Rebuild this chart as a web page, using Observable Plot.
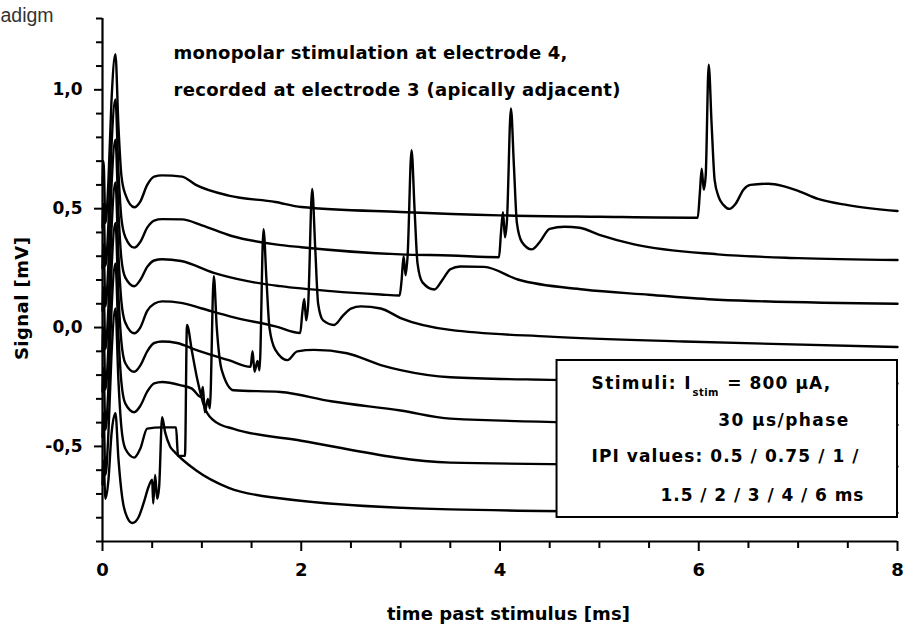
<!DOCTYPE html>
<html>
<head>
<meta charset="utf-8">
<script src="https://cdn.jsdelivr.net/npm/d3@7"></script>
<script src="https://cdn.jsdelivr.net/npm/@observablehq/plot@0.6"></script>
<style>
  html, body { margin: 0; padding: 0; background: #fff; }
</style>
</head>
<body>
<div id="chart"></div>
<script>
// ---- Data: eight recorded traces, [time (ms), signal (mV)] ----
const traceIPI6 = [[0,0.60],[0.01,0.70],[0.03,0.44],[0.06,0.62],[0.09,0.95],[0.13,1.15],[0.16,0.85],[0.19,0.64],[0.23,0.56],[0.32,0.506],[0.38,0.53],[0.45,0.60],[0.52,0.635],[0.6,0.64],[0.8,0.635],[0.94,0.60],[1.27,0.555],[1.74,0.528],[2.0,0.507],[3.0,0.486],[4.0,0.472],[5.0,0.466],[5.99,0.462],[6.01,0.56],[6.03,0.668],[6.05,0.58],[6.07,0.64],[6.1,1.106],[6.13,0.85],[6.16,0.62],[6.2,0.55],[6.25,0.515],[6.31,0.499],[6.37,0.52],[6.45,0.58],[6.52,0.60],[6.7,0.605],[6.85,0.595],[7.0,0.575],[7.2,0.541],[7.5,0.515],[8.0,0.49]];
const traceIPI4 = [[0,0.42],[0.01,0.52],[0.03,0.26],[0.06,0.44],[0.09,0.76],[0.13,0.96],[0.16,0.66],[0.19,0.46],[0.23,0.38],[0.32,0.336],[0.38,0.36],[0.45,0.42],[0.52,0.45],[0.6,0.456],[0.8,0.455],[1.0,0.43],[1.3,0.385],[1.74,0.35],[2.0,0.338],[3.0,0.308],[3.5,0.303],[3.99,0.296],[4.01,0.40],[4.03,0.485],[4.05,0.38],[4.07,0.45],[4.11,0.922],[4.14,0.68],[4.17,0.44],[4.22,0.36],[4.32,0.329],[4.4,0.36],[4.5,0.415],[4.65,0.424],[4.8,0.42],[5.0,0.39],[5.35,0.35],[6.19,0.308],[7.0,0.292],[8.0,0.284]];
const traceIPI3 = [[0,0.25],[0.01,0.35],[0.03,0.09],[0.06,0.27],[0.09,0.59],[0.13,0.79],[0.16,0.49],[0.19,0.29],[0.23,0.21],[0.32,0.174],[0.38,0.20],[0.45,0.255],[0.52,0.282],[0.6,0.287],[0.79,0.28],[1.12,0.23],[1.46,0.195],[1.79,0.174],[2.3,0.153],[2.8,0.139],[2.99,0.135],[3.01,0.20],[3.03,0.30],[3.05,0.22],[3.07,0.30],[3.11,0.746],[3.14,0.50],[3.17,0.27],[3.22,0.19],[3.34,0.16],[3.42,0.20],[3.5,0.245],[3.6,0.257],[3.84,0.255],[4.18,0.202],[4.84,0.16],[5.5,0.138],[6.19,0.117],[8.0,0.10]];
const traceIPI2 = [[0,0.07],[0.01,0.17],[0.03,-0.09],[0.06,0.09],[0.09,0.41],[0.13,0.61],[0.16,0.31],[0.19,0.11],[0.23,0.02],[0.32,-0.024],[0.38,0.0],[0.45,0.07],[0.52,0.10],[0.6,0.11],[0.79,0.104],[1.0,0.08],[1.3,0.045],[1.74,0.005],[1.99,-0.023],[2.01,0.06],[2.03,0.12],[2.05,0.03],[2.07,0.10],[2.11,0.583],[2.14,0.34],[2.17,0.10],[2.22,0.03],[2.33,0.011],[2.42,0.05],[2.5,0.08],[2.6,0.089],[2.8,0.08],[3.0,0.04],[3.5,-0.01],[4.5,-0.038],[5.85,-0.059],[8.0,-0.082]];
const traceIPI15 = [[0,-0.10],[0.01,0.0],[0.03,-0.26],[0.06,-0.08],[0.09,0.24],[0.13,0.44],[0.16,0.14],[0.19,-0.06],[0.23,-0.15],[0.32,-0.186],[0.38,-0.16],[0.45,-0.10],[0.52,-0.065],[0.6,-0.059],[0.75,-0.065],[0.94,-0.094],[1.27,-0.137],[1.49,-0.165],[1.51,-0.10],[1.53,-0.186],[1.56,-0.14],[1.58,-0.18],[1.62,0.414],[1.65,0.20],[1.68,0.0],[1.74,-0.094],[1.86,-0.137],[1.96,-0.10],[2.13,-0.094],[2.46,-0.108],[2.8,-0.158],[3.0,-0.179],[3.5,-0.209],[4.5,-0.22],[5.5,-0.226],[8.0,-0.235]];
const traceIPI1 = [[0,-0.27],[0.01,-0.17],[0.03,-0.43],[0.06,-0.25],[0.09,0.07],[0.13,0.27],[0.16,-0.03],[0.19,-0.23],[0.23,-0.32],[0.32,-0.356],[0.38,-0.33],[0.45,-0.27],[0.52,-0.235],[0.6,-0.229],[0.79,-0.243],[0.9,-0.257],[0.99,-0.292],[1.01,-0.25],[1.03,-0.356],[1.06,-0.30],[1.08,-0.34],[1.12,0.216],[1.15,0.0],[1.2,-0.179],[1.32,-0.264],[1.79,-0.271],[2.3,-0.31],[3.0,-0.349],[3.5,-0.383],[5.5,-0.404],[8.0,-0.41]];
const traceIPI075 = [[0,-0.46],[0.01,-0.36],[0.03,-0.62],[0.06,-0.44],[0.09,-0.12],[0.13,0.08],[0.16,-0.22],[0.19,-0.42],[0.23,-0.51],[0.32,-0.547],[0.38,-0.51],[0.45,-0.425],[0.6,-0.42],[0.74,-0.42],[0.76,-0.54],[0.83,-0.54],[0.85,0.011],[0.9,-0.10],[0.95,-0.21],[1.04,-0.349],[1.15,-0.40],[1.32,-0.426],[2.0,-0.476],[3.5,-0.568],[5.5,-0.578],[8.0,-0.585]];
const traceIPI05 = [[0,-0.66],[0.01,-0.56],[0.03,-0.72],[0.06,-0.64],[0.09,-0.45],[0.13,-0.36],[0.16,-0.55],[0.2,-0.72],[0.25,-0.80],[0.3,-0.822],[0.36,-0.80],[0.42,-0.73],[0.46,-0.674],[0.5,-0.64],[0.51,-0.74],[0.53,-0.62],[0.55,-0.72],[0.57,-0.67],[0.6,-0.377],[0.63,-0.44],[0.68,-0.50],[0.73,-0.525],[0.94,-0.60],[1.27,-0.674],[1.74,-0.716],[3.5,-0.765],[5.5,-0.775],[8.0,-0.78]];

const ipiLabels = ["6 ms", "4 ms", "3 ms", "2 ms", "1.5 ms", "1 ms", "0.75 ms", "0.5 ms"];
const traceList = [traceIPI6, traceIPI4, traceIPI3, traceIPI2, traceIPI15, traceIPI1, traceIPI075, traceIPI05];

// ---- Axis ticks and labels ----
const xMajorTicks = [0, 2, 4, 6, 8];
const xMinorTicks = [0.5, 1, 1.5, 2.5, 3, 3.5, 4.5, 5, 5.5, 6.5, 7, 7.5];
const yMajorTicks = [-0.5, 0, 0.5, 1.0];
const yTickLabels = ["-0,5", "0,0", "0,5", "1,0"];
const yMinorTicks = [-0.9, -0.8, -0.7, -0.6, -0.4, -0.3, -0.2, -0.1, 0.1, 0.2, 0.3, 0.4, 0.6, 0.7, 0.8, 0.9, 1.1, 1.2, 1.3];

// ---- Texts ----
const headerLines = ["monopolar stimulation at electrode 4,", "recorded at electrode 3 (apically adjacent)"];
const cutText = "adigm";
const xLabel = "time past stimulus [ms]";
const yLabel = "Signal [mV]";
const legendLines = ["Stimuli: I", "stim", "= 800 µA,", "30 µs/phase", "IPI values: 0.5 / 0.75 / 1 /", "1.5 / 2 / 3 / 4 / 6 ms"];

// ---- Build table ----
const rows = traceList.flatMap((tr, i) => tr.map(([t, v]) => ({ipi: ipiLabels[i], t, v})));

// annotation placement (data units)
const headerAnn = [
  {text: headerLines[0], x: 0.714, y: 1.155},
  {text: headerLines[1], x: 0.714, y: 1.0}
];
const legendBox = [{x1: 4.574, x2: 8.0, y1: -0.1386, y2: -0.799}];
const legendAnn = [
  {text: legendLines[0], x: 4.921, y: -0.235},
  {text: legendLines[2], x: 6.286, y: -0.235},
  {text: legendLines[3], x: 6.196, y: -0.3914},
  {text: legendLines[4], x: 4.921, y: -0.5437},
  {text: legendLines[5], x: 5.615, y: -0.7048}
];
const legendSub = [{text: legendLines[1], x: 5.937, y: -0.2745}];

const textWidths = new Map([
  [headerLines[0], 394], [headerLines[1], 447],
  [xLabel, 243], [yLabel, 123], [cutText, 53],
  [legendLines[0], 99], [legendLines[1], 26], [legendLines[2], 103],
  [legendLines[3], 130], [legendLines[4], 267], [legendLines[5], 203]
]);

const font = "DejaVu Sans";
const yFmt = d => yTickLabels[yMajorTicks.indexOf(d)];

const svg = Plot.plot({
  width: 905,
  height: 626,
  marginLeft: 102,
  marginRight: 8,
  marginTop: 18,
  marginBottom: 85,
  x: {domain: [0, 8]},
  y: {domain: [-0.9, 1.3]},
  style: {background: "white", color: "black", fontFamily: font},
  marks: [
    Plot.line(rows, {x: "t", y: "v", z: "ipi", stroke: "black", strokeWidth: 2.4, curve: "monotone-x", strokeLinejoin: "round"}),
    Plot.rect(legendBox, {x1: "x1", x2: "x2", y1: "y1", y2: "y2", fill: "white", stroke: "black", strokeWidth: 2}),
    Plot.ruleX([0], {stroke: "black", strokeWidth: 2.2}),
    Plot.ruleY([-0.9], {stroke: "black", strokeWidth: 2.2}),
    Plot.axisX(xMinorTicks, {tickSize: 7, strokeWidth: 2, fill: "none", label: null}),
    Plot.axisX(xMajorTicks, {tickSize: 10, tickPadding: 12, strokeWidth: 2, tickFormat: d => String(d), fontSize: 18, fontWeight: "bold", fontFamily: font, label: null}),
    Plot.axisY(yMinorTicks, {tickSize: 6, strokeWidth: 2, fill: "none", label: null}),
    Plot.axisY(yMajorTicks, {tickSize: 8, tickPadding: 12, strokeWidth: 2, tickFormat: yFmt, fontSize: 17, fontWeight: "bold", fontFamily: font, label: null}),
    Plot.text(headerAnn, {x: "x", y: "y", text: "text", textAnchor: "start", fontSize: 18, fontWeight: "bold", fontFamily: font, fill: "black"}),
    Plot.text(legendAnn, {x: "x", y: "y", text: "text", textAnchor: "start", fontSize: 17, fontWeight: "bold", fontFamily: font, fill: "black"}),
    Plot.text(legendSub, {x: "x", y: "y", text: "text", textAnchor: "start", fontSize: 10, fontWeight: "bold", fontFamily: font, fill: "black"}),
    Plot.text([{text: cutText, x: -1.026, y: 1.3105}], {x: "x", y: "y", text: "text", textAnchor: "start", fontSize: 19.5, fontFamily: "Liberation Sans", fill: "#333"}),
    Plot.text([{text: xLabel, x: 4.085, y: -1.208}], {x: "x", y: "y", text: "text", textAnchor: "middle", fontSize: 18, fontWeight: "bold", fontFamily: font, fill: "black"}),
    Plot.text([{text: yLabel, x: -0.805, y: 0.122}], {x: "x", y: "y", text: "text", textAnchor: "middle", rotate: -90, fontSize: 18, fontWeight: "bold", fontFamily: font, fill: "black"})
  ]
});

d3.select(svg).selectAll("text").each(function () {
  const w = textWidths.get(this.textContent);
  if (w) {
    this.setAttribute("textLength", w);
    this.setAttribute("lengthAdjust", "spacing");
  }
});

document.getElementById("chart").appendChild(svg);
</script>
</body>
</html>
